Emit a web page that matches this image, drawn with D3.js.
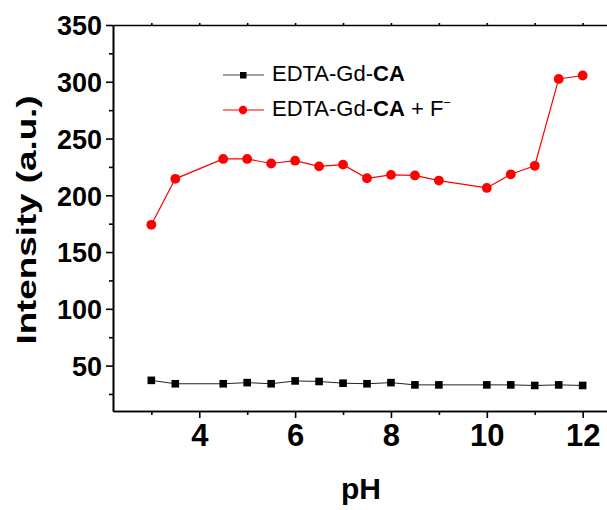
<!DOCTYPE html>
<html>
<head>
<meta charset="utf-8">
<script src="https://cdn.jsdelivr.net/npm/d3@7"></script>
<style>
  body { margin: 0; background: #fff; }
  svg { display: block; font-family: "Liberation Sans", Arial, sans-serif; }
</style>
</head>
<body>
<div id="chart"></div>
<script>
// pH values and the two intensity series
const pHValues = [3, 3.5, 4.5, 5, 5.5, 6, 6.5, 7, 7.5, 8, 8.5, 9, 10, 10.5, 11, 11.5, 12];
const probeOnly = [37, 34, 34, 35, 34, 36.5, 36, 34.5, 34, 35, 33, 33, 33, 33, 32.5, 33, 32.5];
const probeWithF = [174, 214.5, 232, 232, 228, 230.5, 225.5, 227, 215, 218, 217.5, 213, 206.5, 218.5, 226, 302.5, 305.5];

const yMajorTicks = [50, 100, 150, 200, 250, 300, 350];
const yMinorTicks = [25, 75, 125, 175, 225, 275, 325];
const xMajorTicks = [4, 6, 8, 10, 12];
const xMinorTicks = [3, 5, 7, 9, 11];

let width = 607, height = 510;

let svg = d3.select('#chart')
            .append('svg')
            .attr('width', width)
            .attr('height', height);

// scales (right end of the frame falls outside the picture)
let xScale = d3.scaleLinear()
               .domain([2.2, 12.8])
               .range([113, 621]);

let yScale = d3.scaleLinear()
               .domain([10, 350])
               .range([411, 25]);

// left axis
let yAxis = svg.append('g')
   .attr('transform', `translate(${xScale.range()[0]},0)`)
   .call(d3.axisLeft(yScale).tickValues(yMajorTicks).tickSize(7).tickPadding(4).tickSizeOuter(0));
yAxis.selectAll('text')
   .attr('font-size', 27)
   .attr('font-weight', 'bold')
   .attr('fill', '#000')
   .attr('dy', '0.36em');

svg.append('g')
   .attr('transform', `translate(${xScale.range()[0]},0)`)
   .call(d3.axisLeft(yScale).tickValues(yMinorTicks).tickSize(4).tickFormat('').tickSizeOuter(0));

// bottom axis
let xAxis = svg.append('g')
   .attr('transform', `translate(0,${yScale.range()[0]})`)
   .call(d3.axisBottom(xScale).tickValues(xMajorTicks).tickSize(7).tickPadding(6).tickSizeOuter(0));
xAxis.selectAll('text')
   .attr('font-size', 31)
   .attr('font-weight', 'bold')
   .attr('fill', '#000')
   .attr('dy', '0.72em');

svg.append('g')
   .attr('transform', `translate(0,${yScale.range()[0]})`)
   .call(d3.axisBottom(xScale).tickValues(xMinorTicks).tickSize(4).tickFormat('').tickSizeOuter(0));

// top axis, small ticks only
svg.append('g')
   .attr('transform', `translate(0,${yScale.range()[1]})`)
   .call(d3.axisTop(xScale).tickValues(xMajorTicks.concat(xMinorTicks, [12.8])).tickSize(2).tickFormat('').tickSizeOuter(0));

svg.selectAll('.domain, .tick line')
   .attr('stroke', '#000')
   .attr('stroke-width', 1.6);

// axis labels
svg.append('text')
   .attr('x', 361)
   .attr('y', 499)
   .attr('text-anchor', 'middle')
   .attr('font-size', 30)
   .attr('font-weight', 'bold')
   .text('pH');

// the y title is stretched along its length in the original
svg.append('text')
   .attr('transform', 'translate(36,220) scale(1,1.29) rotate(-90)')
   .attr('text-anchor', 'middle')
   .attr('font-size', 28.5)
   .attr('font-weight', 'bold')
   .text('Intensity (a.u.)');

// lines
let line = d3.line()
             .x((d, i) => xScale(pHValues[i]))
             .y(d => yScale(d));

svg.append('path')
   .datum(probeOnly)
   .attr('fill', 'none')
   .attr('stroke', '#222')
   .attr('stroke-width', 1)
   .attr('d', line);

svg.append('path')
   .datum(probeWithF)
   .attr('fill', 'none')
   .attr('stroke', '#ff0000')
   .attr('stroke-width', 1.2)
   .attr('d', line);

// markers
svg.selectAll('.sq')
   .data(probeOnly)
   .enter()
   .append('rect')
   .attr('x', (d, i) => xScale(pHValues[i]) - 3.8)
   .attr('y', d => yScale(d) - 3.8)
   .attr('width', 7.6)
   .attr('height', 7.6)
   .attr('fill', '#000');

svg.selectAll('.dot')
   .data(probeWithF)
   .enter()
   .append('circle')
   .attr('cx', (d, i) => xScale(pHValues[i]))
   .attr('cy', d => yScale(d))
   .attr('r', 4.9)
   .attr('fill', '#ff0000');

// legend
const legend = svg.append('g');

legend.append('line')
   .attr('x1', 223).attr('x2', 264)
   .attr('y1', 75).attr('y2', 75)
   .attr('stroke', '#444').attr('stroke-width', 1.2);
legend.append('rect')
   .attr('x', 240).attr('y', 72)
   .attr('width', 6.5).attr('height', 6.5)
   .attr('fill', '#000');

let t1 = legend.append('text')
   .attr('x', 272).attr('y', 81)
   .attr('font-size', 22);
t1.append('tspan').text('EDTA-Gd-');
t1.append('tspan').attr('font-weight', 'bold').text('CA');

legend.append('line')
   .attr('x1', 223).attr('x2', 264)
   .attr('y1', 110).attr('y2', 110)
   .attr('stroke', '#ff0000').attr('stroke-width', 1.2);
legend.append('circle')
   .attr('cx', 243).attr('cy', 110)
   .attr('r', 4.2)
   .attr('fill', '#ff0000');

let t2 = legend.append('text')
   .attr('x', 272).attr('y', 116)
   .attr('font-size', 22);
t2.append('tspan').text('EDTA-Gd-');
t2.append('tspan').attr('font-weight', 'bold').text('CA');
t2.append('tspan').text(' + F');
t2.append('tspan').attr('font-size', 13).attr('dy', -9).text('\u2212');
</script>
</body>
</html>
